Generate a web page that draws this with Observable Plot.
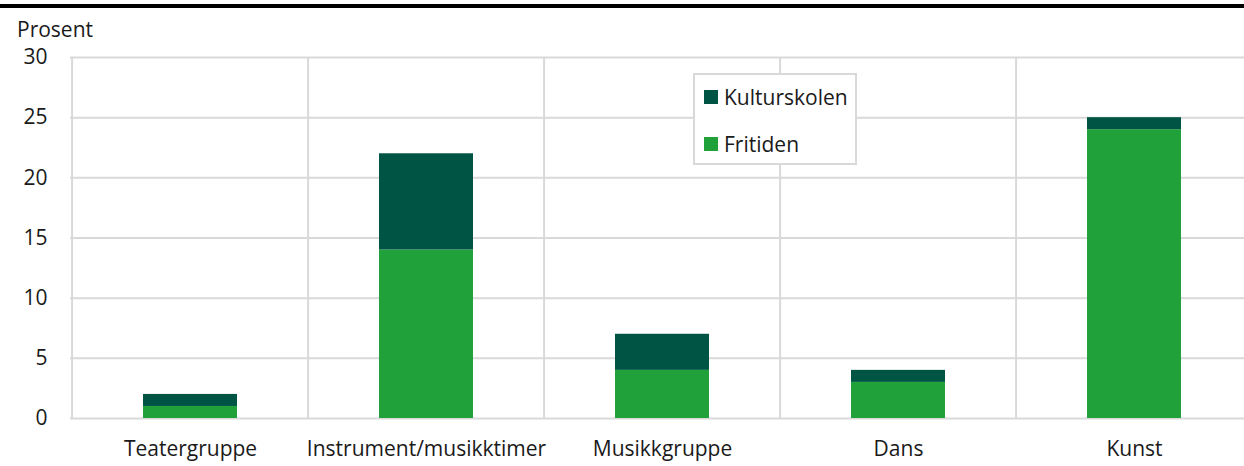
<!DOCTYPE html>
<html>
<head>
<meta charset="utf-8">
<script src="https://cdn.jsdelivr.net/npm/d3@7"></script>
<script src="https://cdn.jsdelivr.net/npm/@observablehq/plot@0.6"></script>
<style>
  html, body { margin: 0; padding: 0; background: #fff; overflow: hidden; }
  #wrap { position: relative; width: 1244px; height: 466px; font-family: "Open Sans", sans-serif; color: #1a1a1a; }
  #topline { position: absolute; left: 0; top: 4px; width: 1244px; height: 3.5px; background: #000; }
  #ylabel { position: absolute; left: 17px; top: 15px; font-size: 21px; line-height: 28px; }
  #legend { position: absolute; left: 693px; top: 73px; width: 164px; height: 92px; border: 2px solid #d9d9d9; background: #fff; box-sizing: border-box; }
  .li { position: absolute; left: 9px; font-size: 21px; line-height: 26px; display: flex; align-items: center; }
  .sw { width: 14px; height: 14px; margin-right: 6px; display: inline-block; }
  svg text { font-family: "Open Sans", sans-serif; }
</style>
</head>
<body>
<div id="wrap">
  <div id="chart"></div>
  <div id="topline"></div>
  <div id="ylabel">Prosent</div>
  <div id="legend"></div>
</div>
<script>
const categories = ["Teatergruppe", "Instrument/musikktimer", "Musikkgruppe", "Dans", "Kunst"];
const fritiden = [1, 14, 4, 3, 24];
const kulturskolen = [1, 8, 3, 1, 1];
const seriesNames = ["Fritiden", "Kulturskolen"];
const seriesColors = ["#21a13a", "#005444"];
const yTicks = [0, 5, 10, 15, 20, 25, 30];

const data = [];
categories.forEach((c, i) => {
  data.push({cat: c, series: "Fritiden", value: fritiden[i]});
  data.push({cat: c, series: "Kulturskolen", value: kulturskolen[i]});
});

const xRange = [70, 1254];
const step = (xRange[1] - xRange[0]) / categories.length;

const chart = Plot.plot({
  width: 1244,
  height: 466,
  marginLeft: 70,
  marginRight: 0,
  marginTop: 57,
  marginBottom: 48,
  style: {fontFamily: "Open Sans, sans-serif", fontSize: "21px", color: "#1a1a1a", background: "#fff"},
  x: {domain: categories, range: xRange, paddingInner: 0.6, paddingOuter: 0.3, label: null},
  y: {domain: [0, 30], ticks: yTicks, label: null},
  color: {domain: seriesNames, range: seriesColors},
  marks: [
    Plot.ruleY(yTicks, {stroke: "#d9d9d9", strokeWidth: 2}),
    Plot.ruleX(categories, {x: d => d, dx: -step / 2, stroke: "#d9d9d9", strokeWidth: 2}),
    Plot.barY(data, Plot.stackY({x: "cat", y: "value", fill: "series", order: seriesNames})),
    Plot.axisY({ticks: yTicks, tickSize: 0, tickPadding: 23, label: null, fontSize: 21}),
    Plot.axisX({tickSize: 0, tickPadding: 23, label: null, fontSize: 21})
  ]
});
document.getElementById("chart").appendChild(chart);

const legend = document.getElementById("legend");
[["Kulturskolen", seriesColors[1], 9], ["Fritiden", seriesColors[0], 56]].forEach(([name, col, top]) => {
  const d = document.createElement("div");
  d.className = "li";
  d.style.top = top + "px";
  d.innerHTML = `<span class="sw" style="background:${col}"></span><span>${name}</span>`;
  legend.appendChild(d);
});
</script>
</body>
</html>
